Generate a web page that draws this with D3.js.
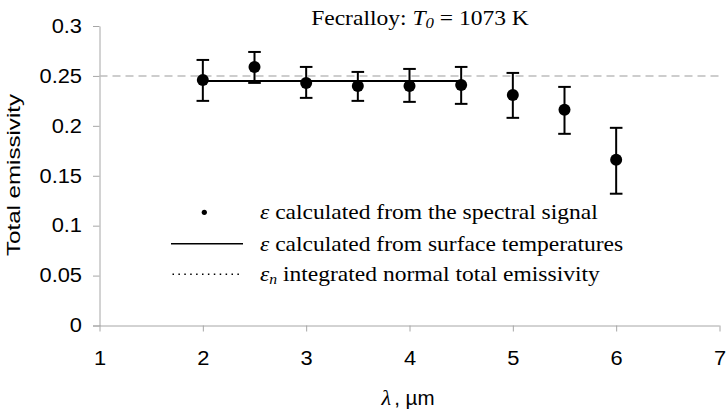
<!DOCTYPE html>
<html>
<head>
<meta charset="utf-8">
<script src="https://cdn.jsdelivr.net/npm/d3@7"></script>
<style>
  html, body { margin: 0; padding: 0; background: #fff; }
  svg { display: block; }
</style>
</head>
<body>
<svg id="chart" width="727" height="412"></svg>
<script>
// Total emissivity of Fecralloy at T0 = 1073 K versus wavelength
const wavelength = [2, 2.5, 3, 3.5, 4, 4.5, 5, 5.5, 6];
const emissivity = [0.246, 0.259, 0.243, 0.240, 0.240, 0.241, 0.231, 0.216, 0.166];
const errUpper   = [0.266, 0.274, 0.259, 0.254, 0.257, 0.259, 0.253, 0.239, 0.198];
const errLower   = [0.225, 0.243, 0.228, 0.225, 0.224, 0.222, 0.208, 0.192, 0.132];

// emissivity from surface temperatures (constant over 2–4.5 µm)
const surfaceRange = [2, 4.5];
const surfaceValue = 0.245;

// integrated normal total emissivity
const normalValue = 0.25;

const xTicks = [1, 2, 3, 4, 5, 6, 7];
const yTicks = [0, 0.05, 0.1, 0.15, 0.2, 0.25, 0.3];

const legendLabels = [
  "calculated from the spectral signal",
  "calculated from surface temperatures",
  "integrated normal total emissivity"
];

const SERIF = "'Liberation Serif', 'Times New Roman', serif";
const SANS = "'Liberation Sans', Arial, sans-serif";
const WIDEN = 1.12;

const svg = d3.select("#chart");
const x = d3.scaleLinear().domain([1, 7]).range([99.5, 719.5]);
const y = d3.scaleLinear().domain([0, 0.3]).range([325.5, 26]);

function widen(sel, k) {
  sel.each(function () {
    const len = this.getComputedTextLength();
    d3.select(this).attr("textLength", len * k).attr("lengthAdjust", "spacingAndGlyphs");
  });
}

// axes
const axisColor = "#a6a6a6";
const gx = svg.append("g")
  .attr("transform", `translate(0,${y(0)})`)
  .call(d3.axisBottom(x).tickValues(xTicks).tickFormat(d3.format("d")).tickSize(6).tickSizeOuter(0));
const gy = svg.append("g")
  .attr("transform", `translate(${x(1)},0)`)
  .call(d3.axisLeft(y).tickValues(yTicks).tickFormat(d => d === 0 ? "0" : String(+d.toFixed(2))).tickSize(6.5).tickPadding(11).tickSizeOuter(0));

[gx, gy].forEach(g => {
  g.select(".domain").attr("stroke", axisColor).attr("stroke-width", 1);
  g.selectAll(".tick line").attr("stroke", axisColor).attr("stroke-width", 1);
  g.selectAll(".tick text")
    .attr("fill", "#000")
    .style("font-family", SANS)
    .style("font-size", "19.5px");
});
// extend x axis line left to meet the y tick at zero
gx.select(".domain").attr("d", `M${x(1) - 6.5},0.5H${x(7)}`);
gx.selectAll(".tick text").attr("y", 39.5).attr("dy", "0");
widen(gx.selectAll(".tick text"), WIDEN);
widen(gy.selectAll(".tick text"), WIDEN);

// y axis title
svg.append("text")
  .attr("transform", `translate(20,${175}) rotate(-90)`)
  .attr("text-anchor", "middle")
  .style("font-family", SANS)
  .style("font-size", "19px")
  .attr("textLength", 162)
  .attr("lengthAdjust", "spacingAndGlyphs")
  .text("Total emissivity");

// x axis title
const xl = svg.append("text")
  .attr("x", 408).attr("y", 405)
  .attr("text-anchor", "middle");
xl.append("tspan").style("font-family", SERIF).style("font-style", "italic").style("font-size", "21px").text("λ");
xl.append("tspan").attr("dx", 3).style("font-family", SANS).style("font-size", "19.5px").text(", µm");
widen(xl, WIDEN);

// chart title
const title = svg.append("text")
  .attr("x", 420).attr("y", 25)
  .attr("text-anchor", "middle")
  .style("font-family", SERIF)
  .style("font-size", "21px");
title.append("tspan").text("Fecralloy: ");
title.append("tspan").style("font-style", "italic").text("T");
title.append("tspan").style("font-style", "italic").style("font-size", "15px").attr("dy", 3).text("0");
title.append("tspan").attr("dy", -3).text(" = 1073 K");
widen(title, WIDEN);

// integrated normal total emissivity reference
svg.append("line")
  .attr("x1", x(1)).attr("x2", x(7))
  .attr("y1", y(normalValue)).attr("y2", y(normalValue))
  .attr("stroke", "#bdbdbd").attr("stroke-width", 1.5)
  .attr("stroke-dasharray", "8,5");

// surface temperature result
svg.append("line")
  .attr("x1", x(surfaceRange[0])).attr("x2", x(surfaceRange[1]))
  .attr("y1", y(surfaceValue)).attr("y2", y(surfaceValue))
  .attr("stroke", "#000").attr("stroke-width", 2);

// spectral signal results with error bars
const pts = wavelength.map((w, i) => ({ w, e: emissivity[i], hi: errUpper[i], lo: errLower[i] }));
const cap = 6.3;
const eb = svg.append("g").attr("stroke", "#000").attr("stroke-width", 2);
eb.selectAll("line.v").data(pts).join("line").attr("class", "v")
  .attr("x1", d => x(d.w)).attr("x2", d => x(d.w))
  .attr("y1", d => y(d.hi)).attr("y2", d => y(d.lo));
eb.selectAll("line.t").data(pts).join("line").attr("class", "t")
  .attr("x1", d => x(d.w) - cap).attr("x2", d => x(d.w) + cap)
  .attr("y1", d => y(d.hi)).attr("y2", d => y(d.hi));
eb.selectAll("line.b").data(pts).join("line").attr("class", "b")
  .attr("x1", d => x(d.w) - cap).attr("x2", d => x(d.w) + cap)
  .attr("y1", d => y(d.lo)).attr("y2", d => y(d.lo));
svg.append("g").selectAll("circle").data(pts).join("circle")
  .attr("cx", d => x(d.w)).attr("cy", d => y(d.e)).attr("r", 6).attr("fill", "#000");

// legend
const rowY = [212.3, 243.7, 274.3];
const lg = svg.append("g");
lg.append("circle").attr("cx", 204.3).attr("cy", rowY[0]).attr("r", 2.6).attr("fill", "#000");
lg.append("line").attr("x1", 171).attr("x2", 243).attr("y1", rowY[1]).attr("y2", rowY[1])
  .attr("stroke", "#000").attr("stroke-width", 1.4);
lg.append("line").attr("x1", 172.5).attr("x2", 241).attr("y1", rowY[2]).attr("y2", rowY[2])
  .attr("stroke", "#000").attr("stroke-width", 1.5).attr("stroke-dasharray", "1.5,4.4");

legendLabels.forEach((label, i) => {
  const t = lg.append("text")
    .attr("x", 260).attr("y", rowY[i] + 7)
    .style("font-family", SERIF)
    .style("font-size", "21px");
  t.append("tspan").style("font-style", "italic").text("ε");
  if (i === 2) {
    t.append("tspan").style("font-style", "italic").style("font-size", "14px").attr("dy", 3).text("n");
    t.append("tspan").attr("dy", -3).text(" " + label);
  } else {
    t.append("tspan").text(" " + label);
  }
  widen(t, WIDEN);
});
</script>
</body>
</html>
